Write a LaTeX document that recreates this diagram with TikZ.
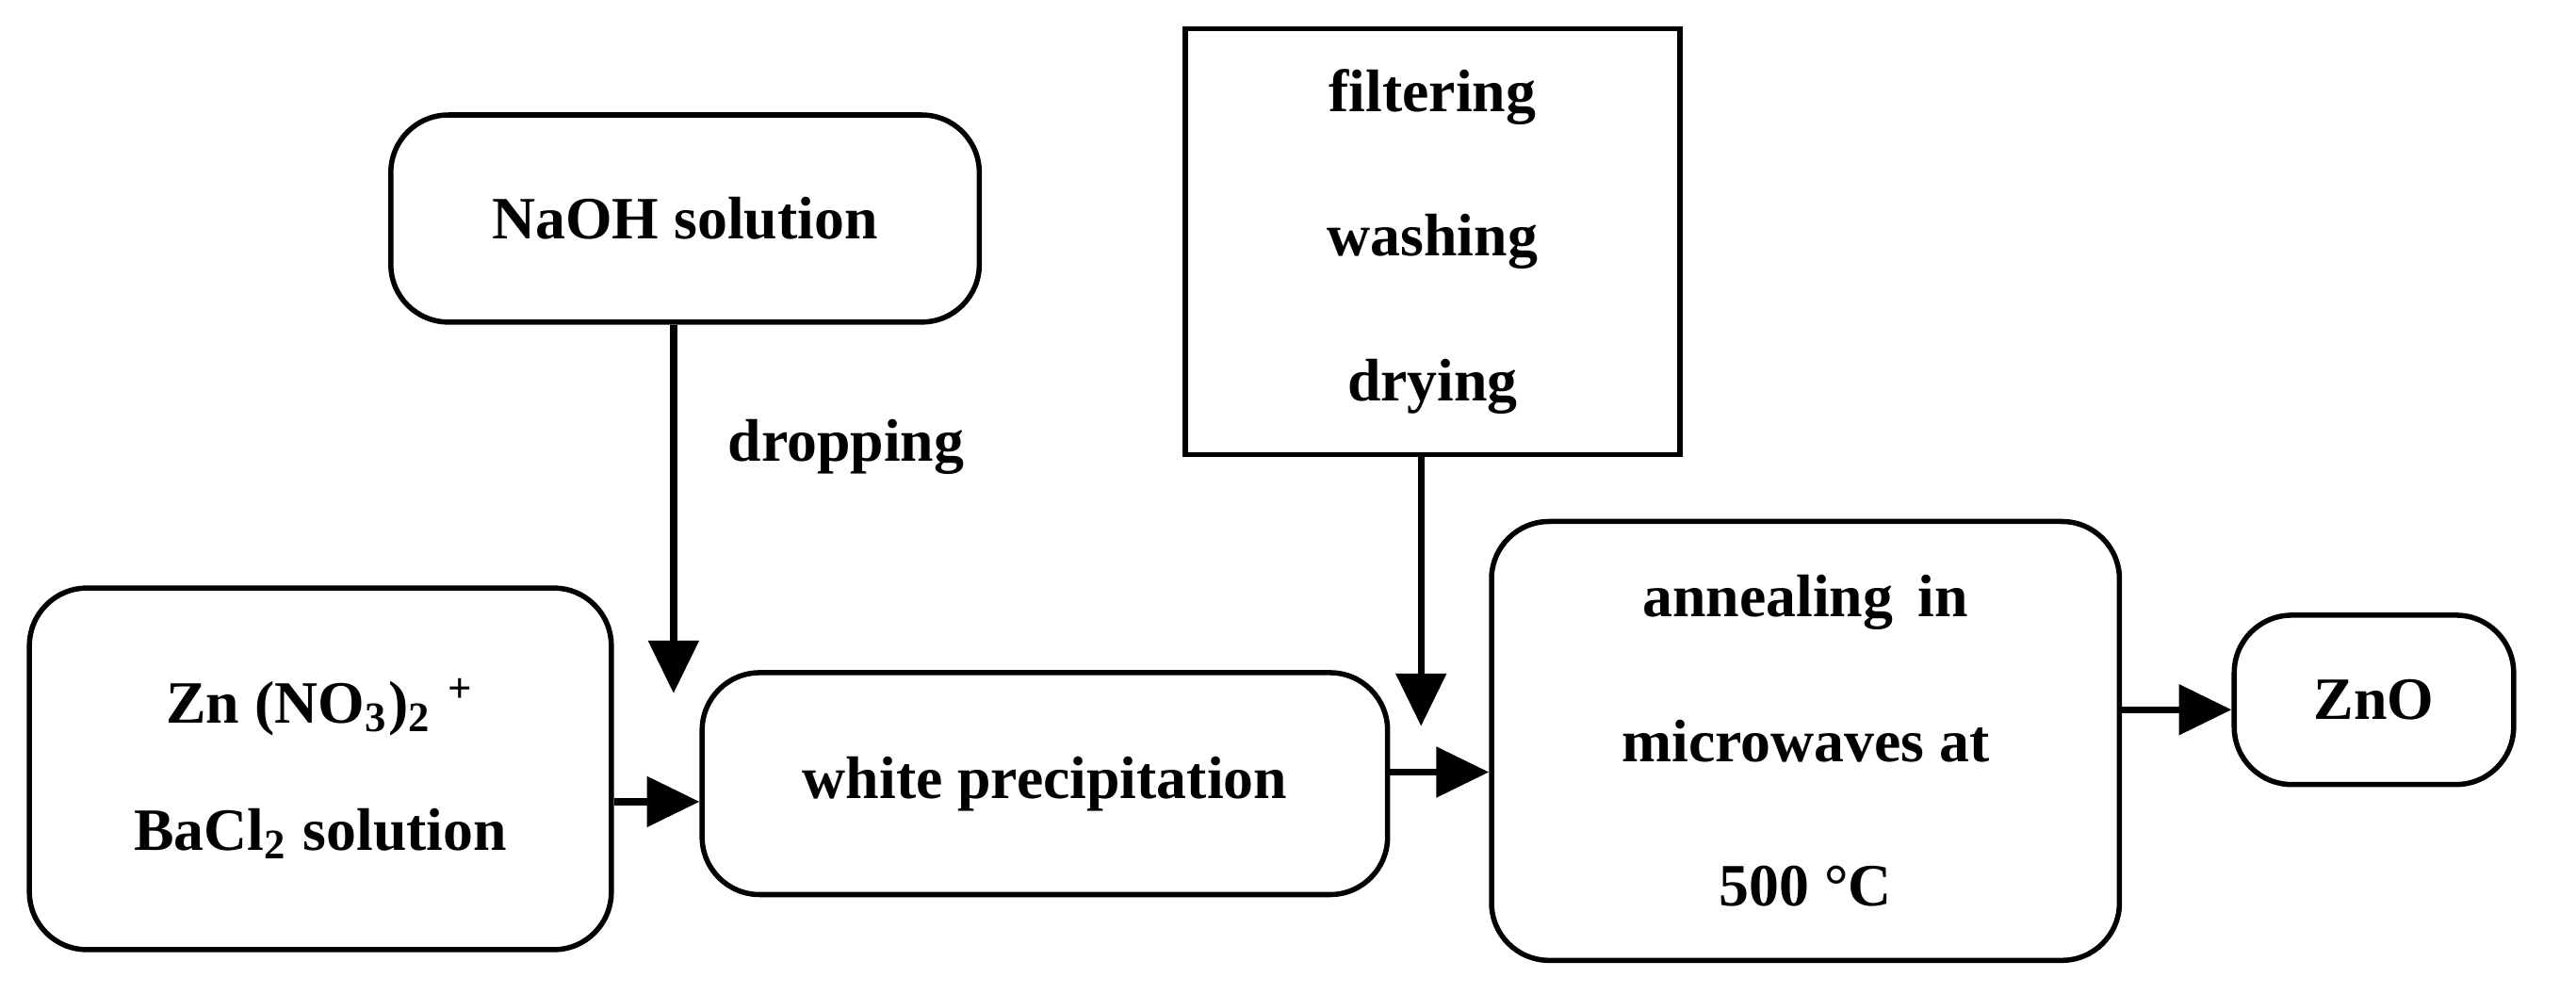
\documentclass[tikz,border=0pt]{standalone}
\usepackage{fontspec}
\setmainfont{Liberation Serif}
\usetikzlibrary{arrows.meta}
\begin{document}
\begin{tikzpicture}[x=0.01cm,y=-0.01cm,
  box/.style={draw,line width=0.9pt,rounded corners=0.35cm,align=center,font=\fontsize{10.4}{22}\selectfont\bfseries},
  sqbox/.style={draw,line width=0.9pt,align=center},
  arr/.style={line width=1.2pt,-{Triangle[length=0.32cm,width=0.3cm]}},
  lbl/.style={font=\fontsize{10.4}{13}\selectfont\bfseries}]
\useasboundingbox (0,0) rectangle (1568,605);
\node[box,minimum width=3.54cm,minimum height=2.2cm] (zn) at (195,468) {Zn (NO\textsubscript{3})\textsubscript{2} \textsuperscript{+}\\BaCl\textsubscript{2} solution};
\node[box,minimum width=3.58cm,minimum height=1.26cm] (naoh) at (417,133) {NaOH solution};
\node[box,minimum width=4.17cm,minimum height=1.35cm] (wp) at (636,477) {white precipitation};
\node[sqbox,minimum width=3.01cm,minimum height=2.59cm,font=\fontsize{10.4}{25}\selectfont\bfseries] (filt) at (872,147) {filtering\\washing\\drying};
\node[box,minimum width=3.82cm,minimum height=2.67cm,font=\fontsize{10.4}{25}\selectfont\bfseries] (ann) at (1099,451) {annealing\, in\\microwaves at\\500 °C};
\node[box,minimum width=1.7cm,minimum height=1.03cm] (zno) at (1445,426) {ZnO};
\coordinate (d1) at (410,422);
\coordinate (d2) at (865,442);
\draw[arr] (naoh.south -| d1) -- (d1);
\draw[arr] (filt.south -| d2) -- (d2);
\node[lbl] (drop) at (515,272) {dropping};
\draw[arr] (zn.east |- 0,488) -- (wp.west |- 0,488);
\draw[arr] (wp.east |- 0,470) -- (ann.west |- 0,470);
\draw[arr] (ann.east |- 0,432) -- (zno.west |- 0,432);
\end{tikzpicture}
\end{document}
